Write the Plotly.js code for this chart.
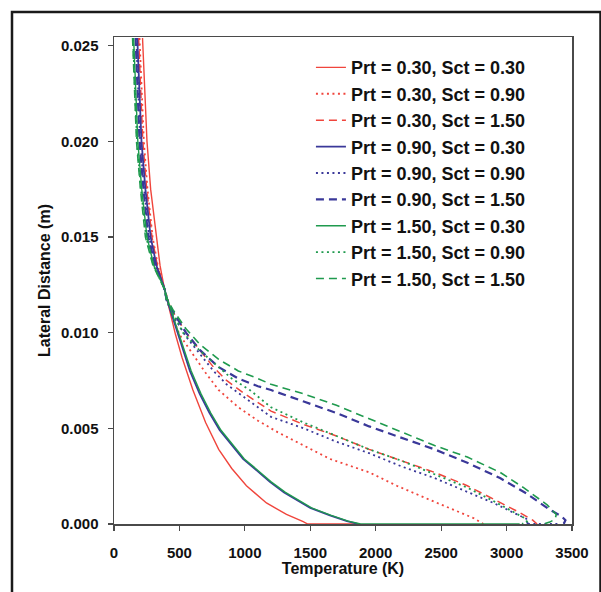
<!DOCTYPE html>
<html>
<head>
<meta charset="utf-8">
<script src="https://cdn.plot.ly/plotly-3.0.1.min.js"></script>
<style>html,body{margin:0;padding:0;background:#fff;}#chart{width:601px;height:592px;}</style>
</head>
<body>
<div id="chart"></div>
<script>
// Temperature (K) and lateral distance (m)
const T_p030_s030 = [218,232,252,280,322,352,385,420,470,520,603,700,800,900,1012,1165,1318,1446,1480,1850];
const D_p030_s030 = [0.0254,0.0230,0.0200,0.0175,0.0150,0.0135,0.0123,0.0113,0.0099,0.0087,0.0070,0.0053,0.0039,0.0029,0.0020,0.0011,0.0005,0.00012,0,0];

const T_p030_s090 = [195,208,228,256,295,335,385,400,450,500,600,700,800,950,1100,1250,1450,1650,1950,2161,2400,2650,2750,2823];
const D_p030_s090 = [0.0254,0.0230,0.0200,0.0175,0.0150,0.0135,0.0123,0.0119,0.0108,0.0099,0.0089,0.0079,0.0070,0.0061,0.0054,0.0048,0.0041,0.0034,0.0027,0.0020,0.0013,0.0006,0.0003,0];

const T_p030_s150 = [188,200,220,250,290,332,385,400,450,550,655,760,860,1000,1200,1450,1700,1950,2200,2450,2700,2900,3100,3200,3233];
const D_p030_s150 = [0.0254,0.0230,0.0200,0.0175,0.0150,0.0135,0.0123,0.0118,0.0111,0.0100,0.0091,0.0082,0.0075,0.0068,0.0059,0.0052,0.0046,0.0039,0.0033,0.0027,0.0020,0.0013,0.0006,0.0002,0];

const T_p090_s030 = [178,190,210,240,280,325,385,420,480,527,580,655,730,808,900,986,1090,1191,1300,1400,1500,1650,1780,1870];
const D_p090_s030 = [0.0254,0.0230,0.0200,0.0175,0.0150,0.0135,0.0123,0.0114,0.0101,0.0091,0.0080,0.0068,0.0058,0.0049,0.0041,0.0034,0.0028,0.0022,0.00165,0.00125,0.00084,0.00045,0.00015,0];

const T_p090_s090 = [170,182,200,230,268,318,385,400,450,550,655,760,860,1000,1200,1450,1700,1950,2200,2450,2700,2900,3080,3150,3168,3145,3411];
const D_p090_s090 = [0.0254,0.0230,0.0200,0.0175,0.0150,0.0135,0.0123,0.0117,0.0109,0.0098,0.0089,0.0080,0.0073,0.0066,0.0056,0.0050,0.0043,0.0037,0.0030,0.0024,0.0017,0.0011,0.0005,0.00028,0.0001,0,0];

const T_p090_s150 = [165,176,195,225,262,315,385,400,450,550,655,800,950,1100,1200,1450,1700,1950,2200,2450,2700,2950,3150,3330,3420,3450,3440,3411];
const D_p090_s150 = [0.0254,0.0230,0.0200,0.0175,0.0150,0.0135,0.0123,0.0118,0.0111,0.0100,0.0091,0.0082,0.0076,0.0072,0.0070,0.0064,0.0058,0.0051,0.0045,0.0039,0.0032,0.0024,0.0016,0.00075,0.0004,0.0002,0.00005,0];

const T_p150_s030 = [150,162,182,212,252,305,385,425,490,537,590,665,740,818,910,996,1100,1201,1310,1410,1510,1660,1790,1885,3100];
const D_p150_s030 = [0.0254,0.0230,0.0200,0.0175,0.0150,0.0135,0.0123,0.0114,0.0101,0.0091,0.0080,0.0068,0.0058,0.0049,0.0041,0.0034,0.0028,0.0022,0.00165,0.00125,0.00084,0.00045,0.00015,0,0];

const T_p150_s090 = [145,157,176,206,246,302,385,400,450,527,650,783,900,1038,1200,1450,1700,1950,2200,2450,2700,2900,3060,3140,3156,3118];
const D_p150_s090 = [0.0254,0.0230,0.0200,0.0175,0.0150,0.0135,0.0123,0.0117,0.0110,0.0100,0.0091,0.0083,0.0076,0.0070,0.0061,0.0053,0.0046,0.0039,0.0033,0.0026,0.0019,0.0012,0.0006,0.0003,0.00012,0];

const T_p150_s150 = [142,153,172,202,240,298,385,400,450,550,655,800,950,1100,1200,1450,1700,1950,2200,2450,2700,2950,3130,3310,3380,3370,3330,3283];
const D_p150_s150 = [0.0254,0.0230,0.0200,0.0175,0.0150,0.0135,0.0123,0.0118,0.0112,0.0102,0.0094,0.0086,0.0080,0.0076,0.0073,0.0068,0.0062,0.0055,0.0048,0.0041,0.0035,0.0027,0.0019,0.0010,0.0005,0.00025,0.0001,0];

const seriesNames = [
  "Prt = 0.30, Sct = 0.30","Prt = 0.30, Sct = 0.90","Prt = 0.30, Sct = 1.50",
  "Prt = 0.90, Sct = 0.30","Prt = 0.90, Sct = 0.90","Prt = 0.90, Sct = 1.50",
  "Prt = 1.50, Sct = 0.30","Prt = 1.50, Sct = 0.90","Prt = 1.50, Sct = 1.50"
];
const xTicks = [0,500,1000,1500,2000,2500,3000,3500];
const yTicks = [0,0.005,0.010,0.015,0.020,0.025];

const RED = "#f0453c", BLUE = "#3a3899", GREEN = "#1f9a4e";
const SOLID = "solid", DOT = "2px,3.5px", DASH = "8px,5px";
const xs = [T_p030_s030,T_p030_s090,T_p030_s150,T_p090_s030,T_p090_s090,T_p090_s150,T_p150_s030,T_p150_s090,T_p150_s150];
const ys = [D_p030_s030,D_p030_s090,D_p030_s150,D_p090_s030,D_p090_s090,D_p090_s150,D_p150_s030,D_p150_s090,D_p150_s150];
const colors = [RED,RED,RED,BLUE,BLUE,BLUE,GREEN,GREEN,GREEN];
const dashes = [SOLID,DOT,DASH,SOLID,DOT,DASH,SOLID,DOT,DASH];
const widths = [1.4,1.8,1.5,1.8,1.8,2.2,1.4,1.8,1.6];

const traces = xs.map((x,i)=>({
  type:"scatter", mode:"lines", x:x, y:ys[i], name:seriesNames[i],
  line:{color:colors[i], width:widths[i], dash:dashes[i]},
  hoverinfo:"skip"
}));

const FONT = "Liberation Sans, Arial, Helvetica, sans-serif";
const PL = 114, PT = 37, PW = 458, PH = 487;
const layout = {
  width:601, height:592,
  margin:{l:PL, r:601-PL-PW, t:PT, b:592-PT-PH},
  paper_bgcolor:"#fff", plot_bgcolor:"#fff",
  showlegend:true,
  legend:{
    x:0.43, y:0.975, xanchor:"left", yanchor:"top",
    bgcolor:"rgba(255,255,255,0)", borderwidth:0,
    font:{family:FONT, size:18, color:"#111", weight:700}
  },
  xaxis:{
    range:[0,3500], tickvals:xTicks, ticktext:xTicks.map(String),
    showline:true, mirror:true, linecolor:"#4a4a4a", linewidth:1.5,
    ticks:"outside", ticklen:5, tickcolor:"#4a4a4a", tickwidth:1.2,
    showgrid:false, zeroline:false, ticklabelstandoff:9,
    tickfont:{family:FONT, size:15, color:"#111", weight:700},
    title:{text:"Temperature (K)", standoff:0, font:{family:FONT, size:16, color:"#111", weight:700}}
  },
  yaxis:{
    range:[0,0.02545], tickvals:yTicks, tickformat:".3f",
    showline:true, mirror:true, linecolor:"#4a4a4a", linewidth:1.5,
    ticks:"outside", ticklen:5, tickcolor:"#4a4a4a", tickwidth:1.2,
    showgrid:false, zeroline:false, ticklabelstandoff:6,
    tickfont:{family:FONT, size:15, color:"#111", weight:700},
    title:{text:"Lateral Distance (m)", standoff:6, font:{family:FONT, size:16, color:"#111", weight:700}}
  },
  shapes:[{
    type:"rect", xref:"paper", yref:"paper", layer:"above",
    x0:(12-PL)/PW, x1:(600.5-PL)/PW, y0:(PT+PH-640)/PH, y1:(PT+PH-12)/PH,
    line:{color:"#1a1a1a", width:2.5}, fillcolor:"rgba(0,0,0,0)"
  }]
};
Plotly.newPlot("chart", traces, layout, {displayModeBar:false, staticPlot:true});
</script>
</body>
</html>
